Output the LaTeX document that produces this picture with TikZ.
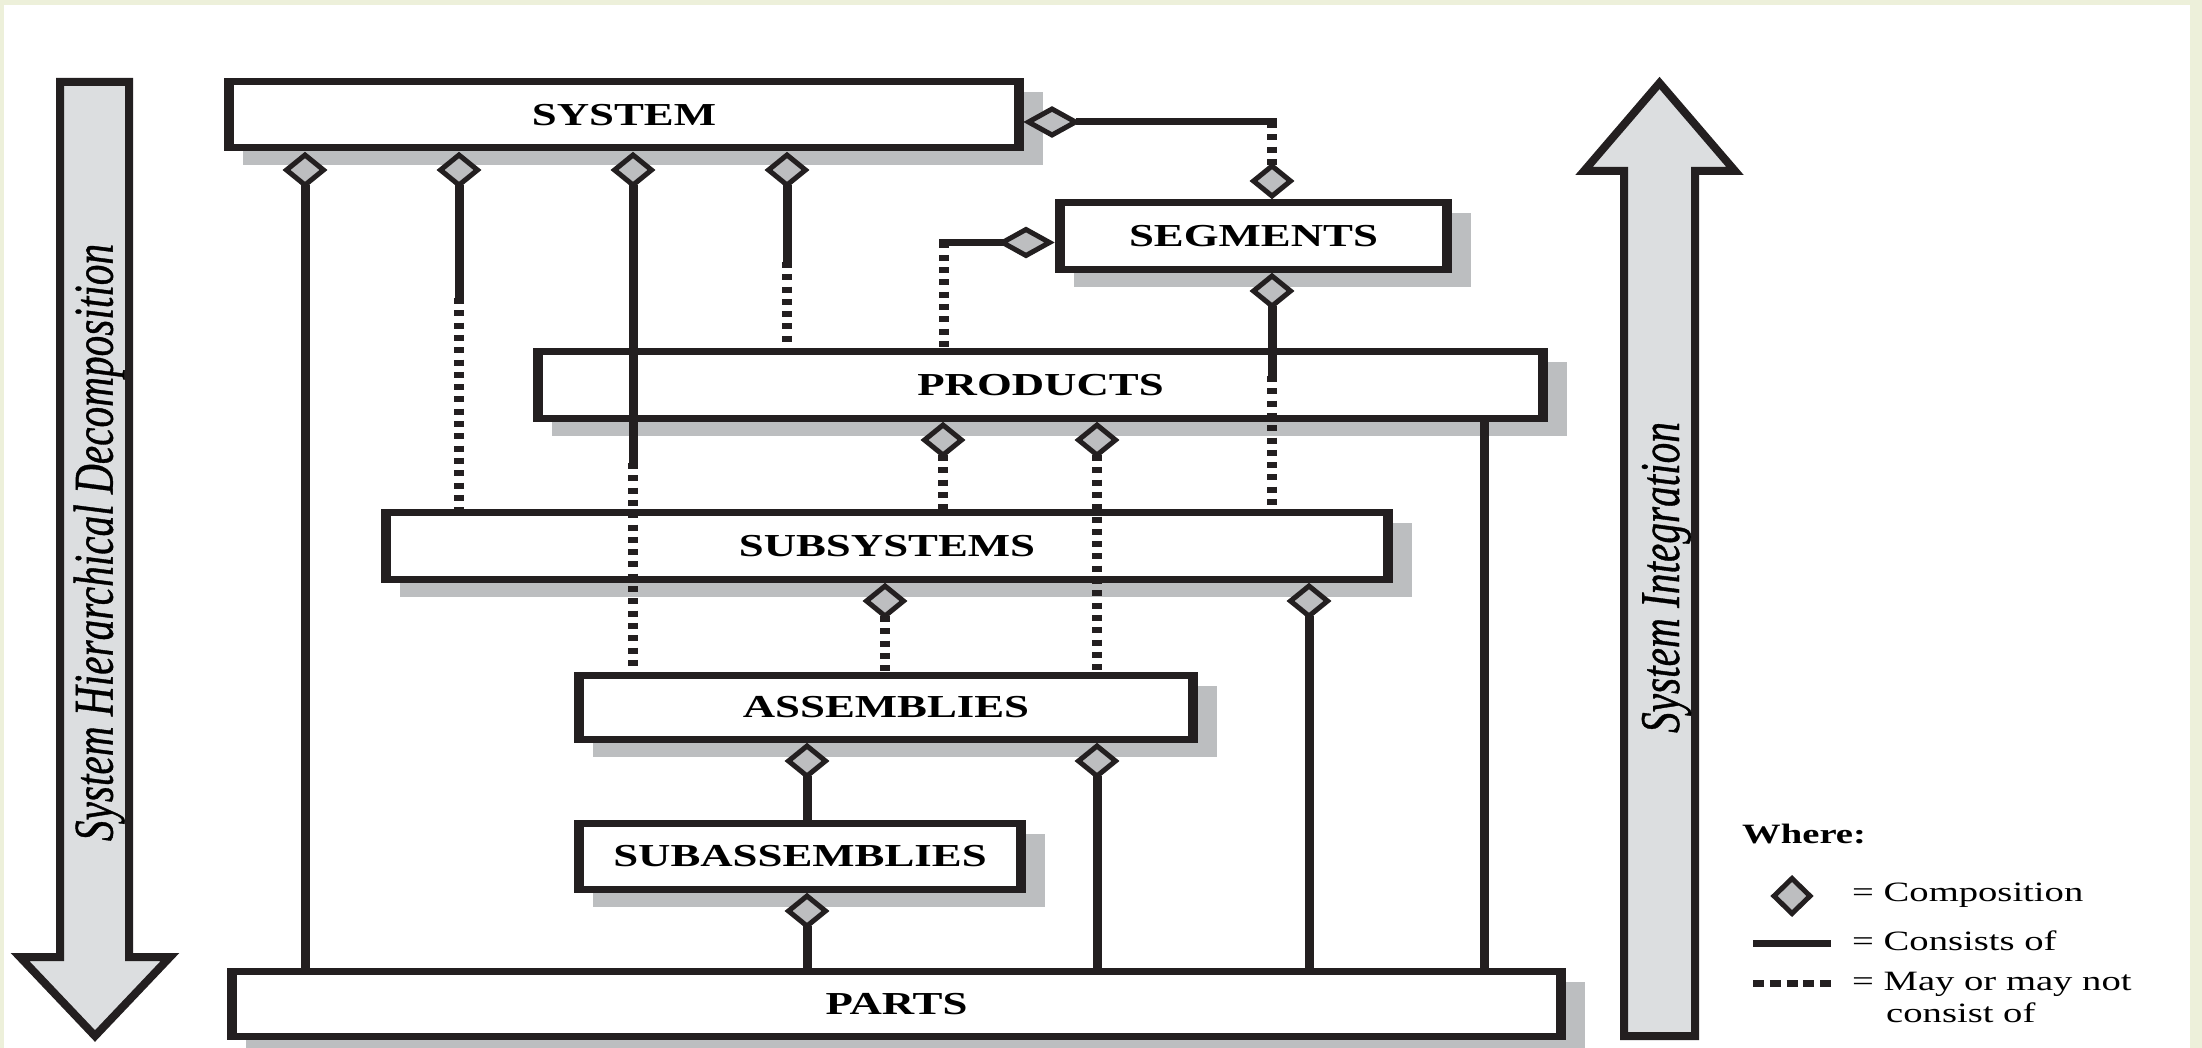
\documentclass[tikz,border=0pt]{standalone}
\usepackage{graphicx}
\usepackage{fontspec}
\setmainfont{Liberation Serif}
\newfontface\sideface{Liberation Serif Italic}[FakeBold=0.8]
\usetikzlibrary{shapes.geometric}

\definecolor{ink}{HTML}{231F20}
\definecolor{shadowgray}{HTML}{BCBEC0}
\definecolor{diafill}{HTML}{BDBEC0}
\definecolor{arrowfill}{HTML}{DCDEE0}
\definecolor{paperedge}{HTML}{EDF0DA}

% wide bold labels of the hierarchy levels
\newcommand\lvltext[1]{\scalebox{1.40}[1]{\fontsize{32}{38}\selectfont\bfseries #1}}
% legend text
\newcommand\legtext[1]{\scalebox{1.38}[1]{\fontsize{28}{32}\selectfont #1}}
% italic captions inside the two big arrows
\newcommand\sidetext[1]{\scalebox{1}[1.36]{\sideface\fontsize{41.3}{48}\selectfont #1}}

\tikzset{
  lvl/.style={fill=ink, inner sep=0pt, outer sep=0pt,
    path picture={\fill[white]
      ([xshift=10pt,yshift=-7pt]path picture bounding box.north west) rectangle
      ([xshift=-10pt,yshift=7pt]path picture bounding box.south east);}},
  comp/.style={diamond, draw=ink, fill=diafill, line width=5pt, inner sep=0pt,
    outer sep=0pt, line join=miter},
  vcomp/.style={comp, minimum width=37pt, minimum height=30pt},
  hcomp/.style={comp, minimum width=47pt, minimum height=26pt},
  legcomp/.style={comp, minimum width=36pt, minimum height=35pt},
  con/.style={draw=ink, line width=9pt},
  hcon/.style={draw=ink, line width=7pt},
  opt/.style={draw=ink, line width=10pt, dash pattern=on 6pt off 6.3pt},
  hopt/.style={draw=ink, line width=7pt, dash pattern=on 11pt off 5.8pt},
  bigarrow/.style={draw=ink, fill=arrowfill, line width=8pt, line join=miter},
  legend/.style={anchor=base west, inner sep=0pt},
}

% shadowed level box: name, x1, y1, x2, y2, label
\newcommand\lvlbox[6]{%
  \fill[shadowgray] (#2+19,#3+14) rectangle (#4+19,#5+14);
  \node[lvl, minimum width={#4-#2}, minimum height={#5-#3}] (#1)
    at ({(#2+#4)/2},{(#3+#5)/2}) {\lvltext{#6}};
}

\begin{document}
\begin{tikzpicture}[x=1pt, y=-1pt]
\useasboundingbox (0,0) rectangle (2202,1048);
\clip (0,0) rectangle (2202,1048);
\fill[white] (0,0) rectangle (2202,1048);
\fill[paperedge] (0,0) rectangle (2202,5);
\fill[paperedge] (0,0) rectangle (4,1048);
\fill[paperedge] (2190,0) rectangle (2202,1048);

% big arrows
\draw[bigarrow] (60,82) -- (129,82) -- (129,957) -- (170,957) -- (95,1036)
  -- (20,957) -- (60,957) -- cycle;
\node[rotate=90, anchor=base, inner sep=0pt] (decomp) at (112.7,542.5)
  {\sidetext{System Hierarchical Decomposition}};
\draw[bigarrow] (1624,1036) -- (1624,171) -- (1584,171) -- (1659.5,83)
  -- (1735,171) -- (1695,171) -- (1695,1036) -- cycle;
\node[rotate=90, anchor=base, inner sep=0pt] (integ) at (1679,577.5)
  {\sidetext{System Integration}};

% level boxes
\lvlbox{sys}{224}{78}{1024}{151.5}{SYSTEM}
\lvlbox{seg}{1055}{199}{1452}{273}{SEGMENTS}
\lvlbox{prod}{533}{348}{1548}{422}{PRODUCTS}
\lvlbox{subsys}{381}{509}{1393}{583}{SUBSYSTEMS}
\lvlbox{asm}{574}{672}{1198}{743}{ASSEMBLIES}
\lvlbox{subasm}{574}{820}{1026}{893}{SUBASSEMBLIES}
\lvlbox{parts}{227}{968}{1566}{1040}{PARTS}

% composition diamonds
\node[vcomp] (dA1) at (305,170) {};
\node[vcomp] (dA2) at (459,170) {};
\node[vcomp] (dA3) at (633,170) {};
\node[vcomp] (dA4) at (787,170) {};
\node[hcomp] (dSysR) at (1052,122) {};
\node[vcomp] (dSegT) at (1272,181) {};
\node[hcomp] (dSegL) at (1026,242.5) {};
\node[vcomp] (dSegB) at (1272,291) {};
\node[vcomp] (dP1) at (943,440) {};
\node[vcomp] (dP2) at (1097,440) {};
\node[vcomp] (dS1) at (885,601) {};
\node[vcomp] (dS2) at (1309,601) {};
\node[vcomp] (dAs1) at (807,761) {};
\node[vcomp] (dAs2) at (1097,761) {};
\node[vcomp] (dSa) at (807,911) {};

% points where a solid link turns into an optional one
\coordinate (b2) at (459,298);
\coordinate (b3) at (633,463);
\coordinate (b4) at (787,262);
\coordinate (cSys) at (1272,122);
\coordinate (cSeg) at (944,242.5);
\coordinate (b7) at (1272,376);
\coordinate (pR) at (1484,422);

% links
\draw[con] (dA1.south) -- (dA1.south |- parts.north);
\draw[con] (dA2.south) -- (b2);
\draw[opt] (b2) -- (b2 |- subsys.north);
\draw[con] (dA3.south) -- (b3);
\draw[opt] (b3) -- (b3 |- asm.north);
\draw[con] (dA4.south) -- (b4);
\draw[opt] (b4) -- (b4 |- prod.north);
\draw[hcon] (dSysR.east) -- ([xshift=5pt]cSys);
\draw[opt] (cSys) -- (dSegT.north);
\draw[hcon] (dSegL.west) -- ([xshift=-5pt]cSeg);
\draw[opt] (cSeg) -- (cSeg |- prod.north);
\draw[con] (dSegB.south) -- (b7);
\draw[opt] (b7) -- (b7 |- subsys.north);
\draw[opt] (dP1.south) -- (dP1.south |- subsys.north);
\draw[opt] (dP2.south) -- (dP2.south |- asm.north);
\draw[con] (pR) -- (pR |- parts.north);
\draw[opt] (dS1.south) -- (dS1.south |- asm.north);
\draw[con] (dS2.south) -- (dS2.south |- parts.north);
\draw[con] (dAs1.south) -- (dAs1.south |- subasm.north);
\draw[con] (dAs2.south) -- (dAs2.south |- parts.north);
\draw[con] (dSa.south) -- (dSa.south |- parts.north);

% legend
\node[legend] (where) at (1742,843) {\legtext{\bfseries Where:}};
\node[legcomp] (legd) at (1792,896) {};
\node[legend] (lgcomp) at (1852,901.5) {\legtext{= Composition}};
\coordinate (ls1) at (1753,943);
\coordinate (ls2) at (1831,943);
\draw[hcon] (ls1) -- (ls2);
\node[legend] (lgcons) at (1852,950) {\legtext{= Consists of}};
\coordinate (lo1) at (1753,983);
\coordinate (lo2) at (1831,983);
\draw[hopt] (lo1) -- (lo2);
\node[legend] (lgopt) at (1852,990.5) {\legtext{= May or may not}};
\node[legend] (lgopt2) at (1886,1022) {\legtext{consist of}};
\end{tikzpicture}
\end{document}
